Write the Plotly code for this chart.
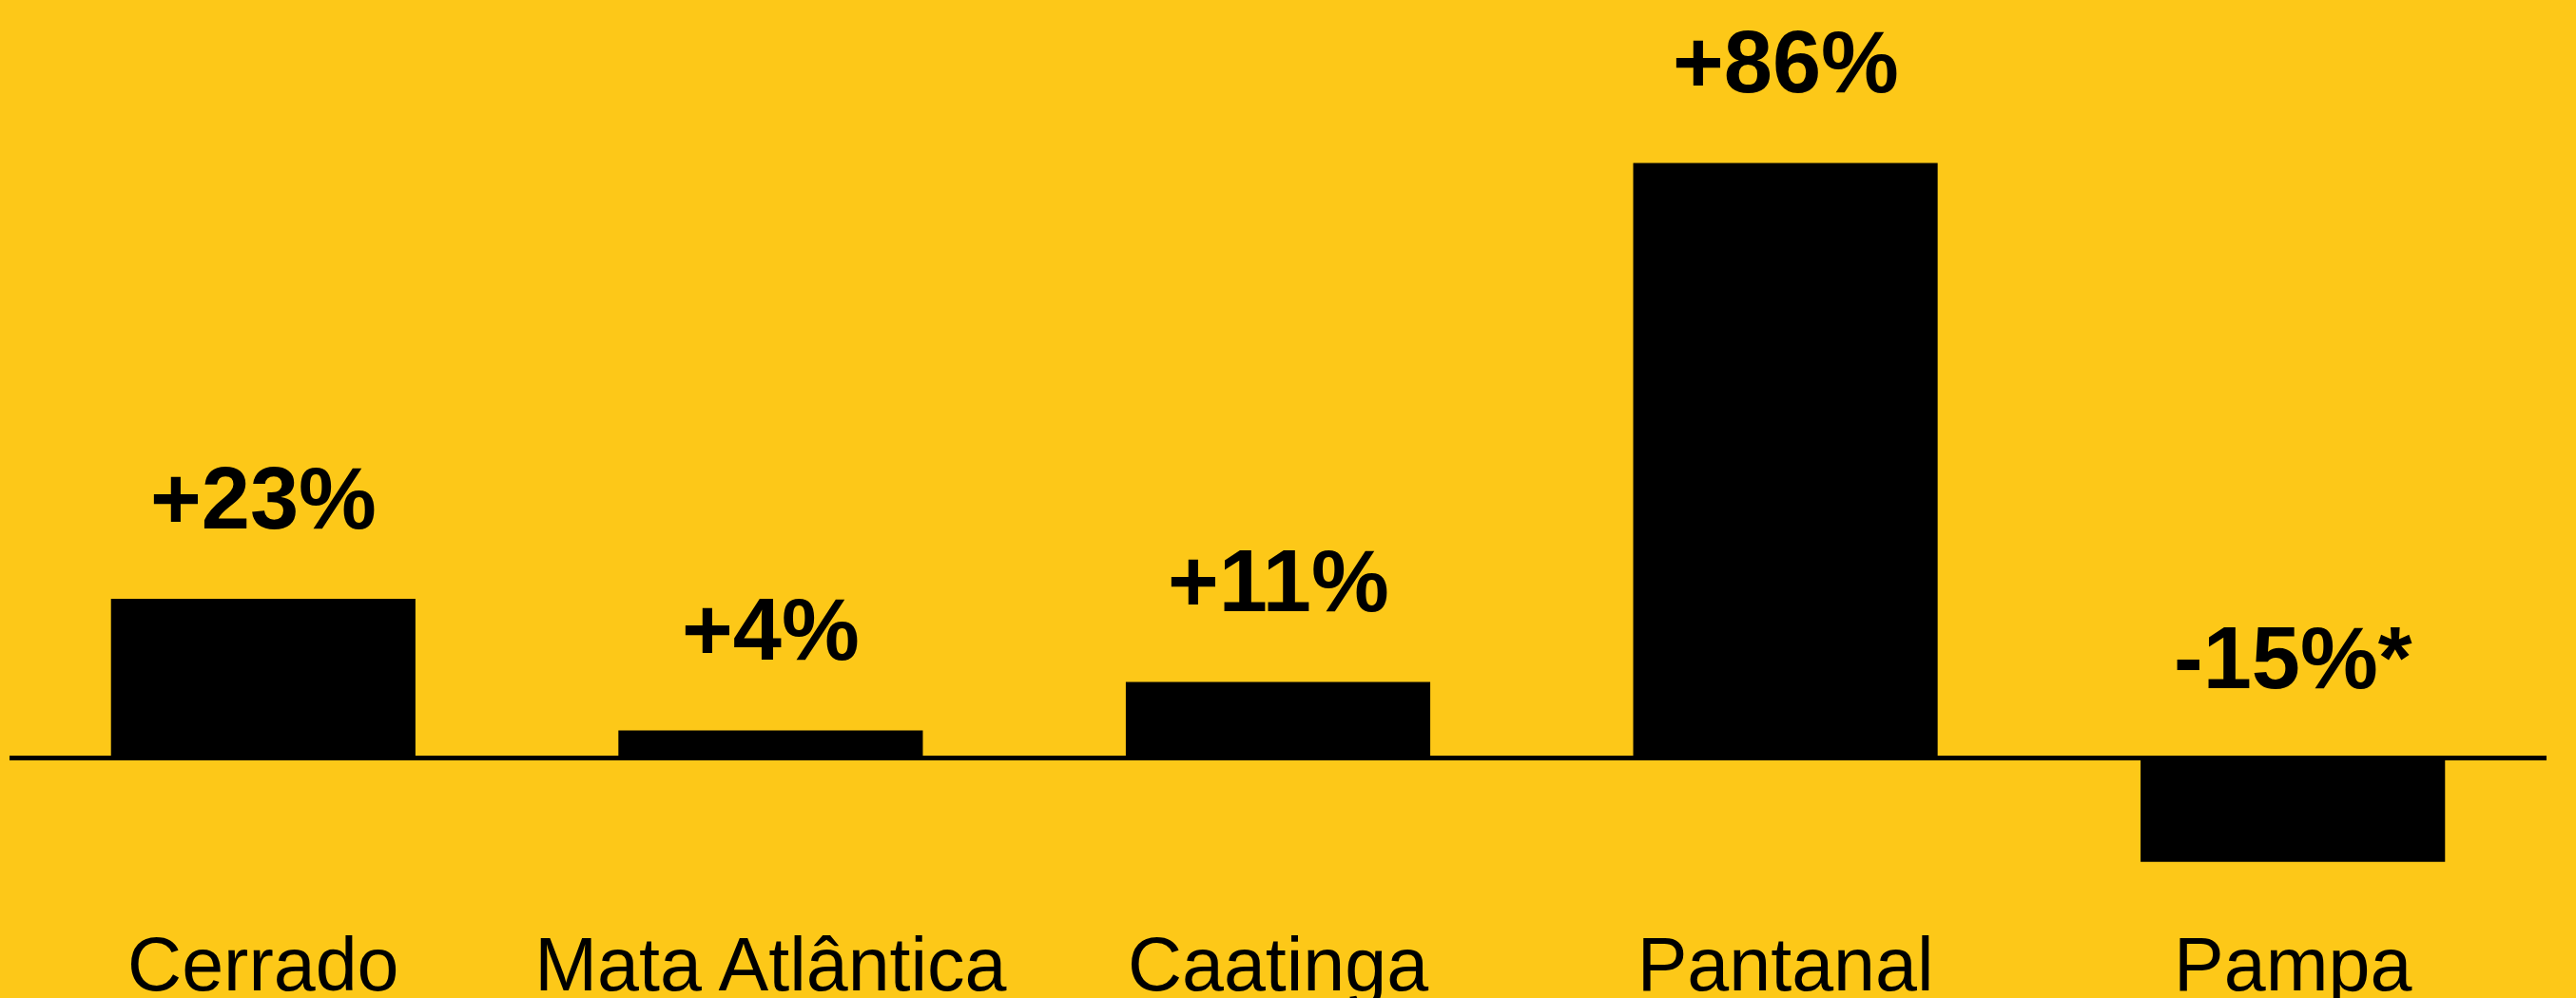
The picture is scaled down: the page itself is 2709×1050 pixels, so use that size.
import plotly.graph_objects as go

# Change by biome (%)
biomes = ["Cerrado", "Mata Atlântica", "Caatinga", "Pantanal", "Pampa"]
change_pct = [23, 4, 11, 86, -15]
value_labels = ["+23%", "+4%", "+11%", "+86%", "-15%*"]

BG = "#FDC818"
INK = "#000000"
FONT = "Liberation Sans, Arial, Helvetica, sans-serif"

W, H = 2709, 1050
PX_PER_UNIT = 7.28
ZERO_Y = 797.5          # pixel row of the baseline
PLOT_BOTTOM = 962       # pixel row of the bottom of the plotting area

y_top = ZERO_Y / PX_PER_UNIT
y_bottom = -(PLOT_BOTTOM - ZERO_Y) / PX_PER_UNIT

fig = go.Figure(
    go.Bar(
        x=biomes,
        y=change_pct,
        marker=dict(color=INK, line=dict(width=0)),
        hoverinfo="skip",
    )
)

# Value labels sit above the bar top, or above the baseline for negative bars
for name, v, lab in zip(biomes, change_pct, value_labels):
    fig.add_annotation(
        x=name,
        y=max(v, 0),
        xref="x",
        yref="y",
        text=lab,
        showarrow=False,
        xanchor="center",
        yanchor="bottom",
        yshift=53,
        font=dict(family=FONT, size=92, color=INK, weight="bold"),
    )

fig.update_layout(
    width=W,
    height=H,
    margin=dict(l=10, r=31, t=0, b=H - PLOT_BOTTOM, pad=0, autoexpand=False),
    paper_bgcolor=BG,
    plot_bgcolor=BG,
    showlegend=False,
    bargap=0.4,
    hovermode=False,
    xaxis=dict(
        showgrid=False,
        showline=False,
        zeroline=False,
        ticks="",
        tickfont=dict(family=FONT, size=79, color=INK),
        ticklabelstandoff=0,
        automargin=False,
        fixedrange=True,
    ),
    yaxis=dict(
        range=[y_bottom, y_top],
        showgrid=False,
        showline=False,
        showticklabels=False,
        ticks="",
        zeroline=True,
        zerolinecolor=INK,
        zerolinewidth=5,
        automargin=False,
        fixedrange=True,
    ),
)

fig.write_html("out.html", config={"displayModeBar": False})
